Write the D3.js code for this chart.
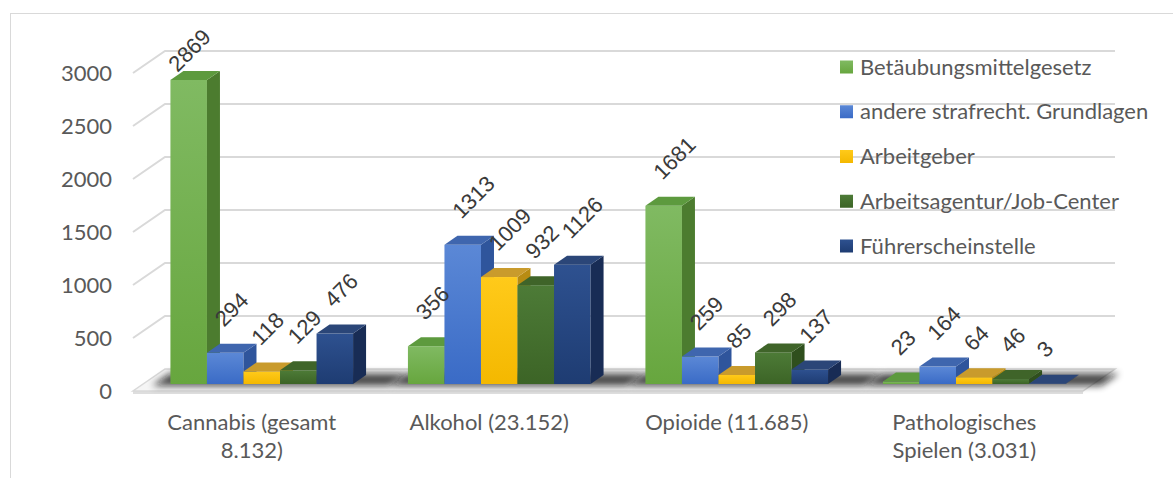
<!DOCTYPE html>
<html lang="de">
<head>
<meta charset="UTF-8">
<title>Auflagen nach Hauptdiagnose</title>
<script src="https://d3js.org/d3.v7.min.js"></script>
<style>
    body { margin: 0; background: #fff; }
    .lbl { font-family: Lato, "Open Sans", sans-serif; fill: #595959; font-size: 22px; }
    .val { font-family: "Liberation Sans", Arial, sans-serif; fill: #3a3a3a; font-size: 22px; }
</style>
</head>
<body>
<div id="chart"></div>
<script>
// Daten
const categories = ["Cannabis (gesamt 8.132)", "Alkohol (23.152)", "Opioide (11.685)", "Pathologisches Spielen (3.031)"];
const seriesNames = ["Betäubungsmittelgesetz", "andere strafrecht. Grundlagen", "Arbeitgeber", "Arbeitsagentur/Job-Center", "Führerscheinstelle"];
const betmg = [2869, 356, 1681, 23];
const strafrecht = [294, 1313, 259, 164];
const arbeitgeber = [118, 1009, 85, 64];
const jobcenter = [129, 932, 298, 46];
const fuehrerschein = [476, 1126, 137, 3];
const yTicks = [0, 500, 1000, 1500, 2000, 2500, 3000];

const values = [betmg, strafrecht, arbeitgeber, jobcenter, fuehrerschein];

// Farben: Vorderseite (Verlauf), Seite, Deckel
const colors = [
    {front: ["#80ba62", "#67a63e"], side: "#4c7c2f", top: "#5d9a3e"},
    {front: ["#5b88d6", "#3a6bc6"], side: "#2f559c", top: "#3f66ae"},
    {front: ["#ffca1a", "#f4b800"], side: "#b88c12", top: "#c99b2c"},
    {front: ["#4d7b37", "#3c6426"], side: "#2f4f1d", top: "#3f6429"},
    {front: ["#2e5190", "#1e3c72"], side: "#182c55", top: "#2b4678"}
];

const width = 1173, height = 478;

// 3D-Versatz
const wall = {dx: 32, dy: -22};   // Rückwand
const off = {dx: 10, dy: -7};     // Vorderseite der Säulen
const dep = {dx: 13, dy: -9};     // Tiefe der Säulen

const svg = d3.select("#chart").append("svg")
    .attr("width", width)
    .attr("height", height);

const defs = svg.append("defs");
colors.forEach((c, i) => {
    const g = defs.append("linearGradient")
        .attr("id", "grad" + i)
        .attr("x1", 0).attr("y1", 0).attr("x2", 0).attr("y2", 1);
    g.append("stop").attr("offset", "0%").attr("stop-color", c.front[0]);
    g.append("stop").attr("offset", "100%").attr("stop-color", c.front[1]);
});
defs.append("filter").attr("id", "blur")
    .attr("x", "-20%").attr("y", "-100%").attr("width", "140%").attr("height", "300%")
    .append("feGaussianBlur").attr("stdDeviation", 3.5);

// Rahmen
svg.append("rect")
    .attr("x", 10.5).attr("y", 13.5)
    .attr("width", 1200).attr("height", 500)
    .attr("fill", "none")
    .attr("stroke", "#d9d9d9");

const x0 = d3.scaleBand()
    .domain(categories)
    .range([133, 1083])
    .paddingInner(0.231)
    .paddingOuter(0.1155);

const x1 = d3.scaleBand()
    .domain(d3.range(seriesNames.length))
    .range([0, x0.bandwidth()]);

const y = d3.scaleLinear()
    .domain([0, 3000])
    .range([391, 73]);

const [xl0, xr0] = x0.range();

// Gitternetzlinien (Seitenwand + Rückwand)
svg.append("g")
    .selectAll("path")
    .data(yTicks.filter(t => t > 0))
    .join("path")
    .attr("d", t => `M${xl0},${y(t)} L${xl0 + wall.dx},${y(t) + wall.dy} L${xr0 + wall.dx},${y(t) + wall.dy}`)
    .attr("fill", "none")
    .attr("stroke", "#d9d9d9")
    .attr("stroke-width", 2);

// Boden
const y0 = y(0);
svg.append("path")
    .attr("d", `M${xl0},${y0 + 3} L${xr0},${y0 + 3} L${xr0},${y0} L${xl0},${y0} Z`)
    .attr("fill", "#dedede");
svg.append("path")
    .attr("d", `M${xl0},${y0} L${xr0},${y0} L${xr0 + wall.dx},${y0 + wall.dy} L${xl0 + wall.dx},${y0 + wall.dy} Z`)
    .attr("fill", "#f5f5f5")
    .attr("stroke", "#d9d9d9")
    .attr("stroke-width", 1.5);

// Achsenbeschriftung
svg.append("g")
    .selectAll("text")
    .data(yTicks)
    .join("text")
    .attr("class", "lbl")
    .attr("x", 112)
    .attr("y", t => y(t))
    .attr("dy", "0.35em")
    .attr("text-anchor", "end")
    .text(t => t);

// Schatten unter den Säulengruppen
const fp = (x, d) => [x + d * wall.dx, y0 + d * wall.dy];
svg.append("g")
    .selectAll("path")
    .data(categories)
    .join("path")
    .attr("d", c => {
        const a = x0(c) + off.dx - 26, b = x0(c) + off.dx + x0.bandwidth() + 28;
        const p = [fp(a, 0.24), fp(b, 0.24), fp(b, 0.8), fp(a, 0.8)];
        return "M" + p.map(q => q.join(",")).join("L") + "Z";
    })
    .attr("fill", "#111")
    .attr("opacity", 0.75)
    .attr("filter", "url(#blur)");

// Säulen
const bars = [];
categories.forEach((c, i) => {
    values.forEach((vals, s) => {
        const xl = x0(c) + x1(s) + off.dx;
        const xr = xl + x1.bandwidth();
        bars.push({c, s, v: vals[i], xl, xr, yb: y(0) + off.dy, yt: y(vals[i]) + off.dy});
    });
});

const bar = svg.append("g")
    .selectAll("g")
    .data(bars)
    .join("g");

bar.append("rect")
    .attr("x", d => d.xl)
    .attr("y", d => d.yt)
    .attr("width", d => d.xr - d.xl)
    .attr("height", d => d.yb - d.yt)
    .attr("fill", d => `url(#grad${d.s})`);

bar.append("path")
    .attr("d", d => `M${d.xr},${d.yb} L${d.xr},${d.yt} L${d.xr + dep.dx},${d.yt + dep.dy} L${d.xr + dep.dx},${d.yb + dep.dy} Z`)
    .attr("fill", d => colors[d.s].side);

bar.append("path")
    .attr("d", d => `M${d.xl},${d.yt} L${d.xr},${d.yt} L${d.xr + dep.dx},${d.yt + dep.dy} L${d.xl + dep.dx},${d.yt + dep.dy} Z`)
    .attr("fill", d => colors[d.s].top);

// Datenbeschriftungen (um -45° gedreht, oben im Diagramm eingeklemmt)
const topLimit = 27, cap = 16;
svg.append("g")
    .selectAll("text")
    .data(bars)
    .join("text")
    .attr("class", "val")
    .text(d => d.v)
    .attr("transform", function(d) {
        const w = this.getComputedTextLength();
        let sx = d.xl + 17, sy = d.yt - 25;
        const need = topLimit + (w + cap) / Math.SQRT2;
        if (sy < need) {
            const delta = need - sy;
            sy += delta;
            sx -= delta * 0.55;
        }
        return `translate(${sx},${sy}) rotate(-45)`;
    });

// Kategorienbeschriftung (mit Umbruch)
const catText = svg.append("g")
    .selectAll("text")
    .data(categories)
    .join("text")
    .attr("class", "lbl")
    .attr("text-anchor", "middle")
    .attr("y", 422);

catText.each(function(c) {
    const t = d3.select(this);
    const cx = x0(c) + x0.bandwidth() / 2;
    const words = c.split(" ");
    const lines = [];
    let line = [];
    const probe = t.append("tspan");
    words.forEach(w => {
        const test = line.concat([w]).join(" ");
        probe.text(test);
        if (probe.node().getComputedTextLength() > 180 && line.length) {
            lines.push(line.join(" "));
            line = [w];
        } else {
            line.push(w);
        }
    });
    lines.push(line.join(" "));
    probe.remove();
    t.selectAll("tspan")
        .data(lines)
        .join("tspan")
        .attr("x", cx)
        .attr("dy", (l, i) => i === 0 ? "0.35em" : "28px")
        .text(l => l);
});

// Legende
const legend = svg.append("g")
    .selectAll("g")
    .data(seriesNames)
    .join("g")
    .attr("transform", (n, i) => `translate(840,${67 + i * 44.75})`);

legend.append("rect")
    .attr("x", 0).attr("y", -6.5)
    .attr("width", 13).attr("height", 13)
    .attr("fill", (n, i) => `url(#grad${i})`);

legend.append("text")
    .attr("class", "lbl")
    .attr("x", 20)
    .attr("dy", "0.35em")
    .text(n => n);
</script>
</body>
</html>
